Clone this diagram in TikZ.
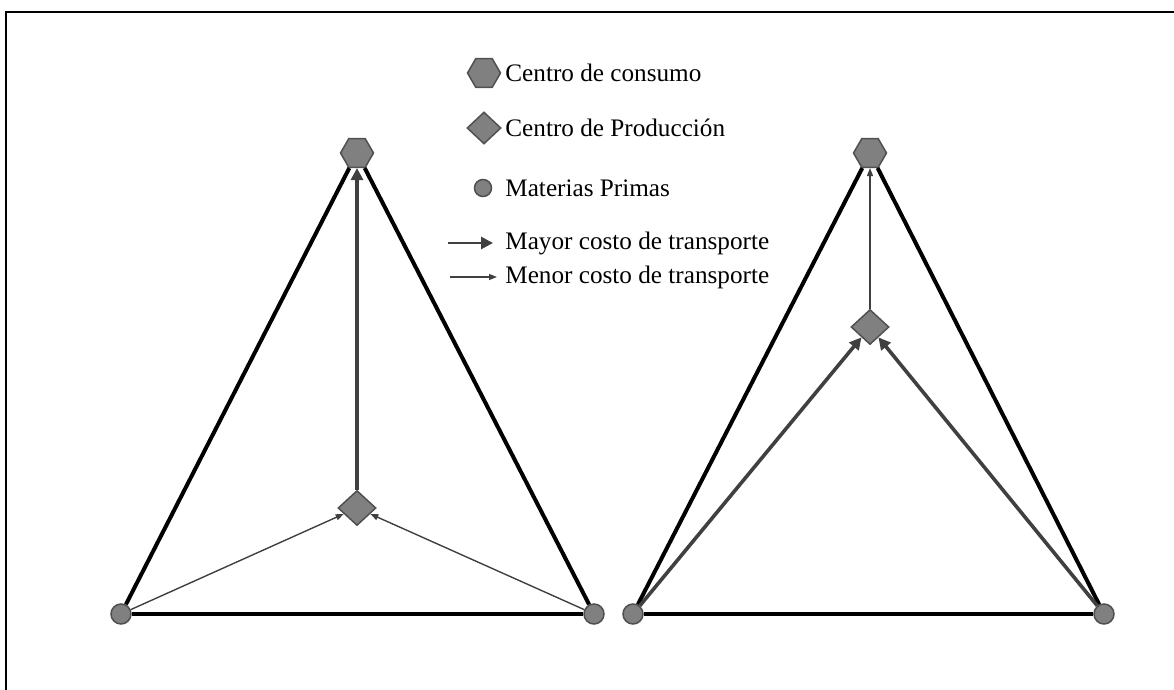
\documentclass[tikz,border=0pt]{standalone}
\usepackage{fontspec}
\setmainfont{Liberation Serif}
\usetikzlibrary{shapes.geometric,arrows.meta,positioning}
\definecolor{shapefill}{HTML}{808080}
\definecolor{shapeline}{HTML}{505050}
\definecolor{arrowgray}{HTML}{404040}

\begin{document}
\begin{tikzpicture}[x=0.5pt, y=-0.5pt,
hexa/.style={regular polygon, regular polygon sides=6, draw=shapeline, fill=shapefill, line width=0.75pt, minimum size=16.5pt, inner sep=0pt},
plant/.style={diamond, draw=shapeline, fill=shapefill, line width=0.75pt, minimum width=19pt, minimum height=17.5pt, inner sep=0pt},
raw/.style={circle, draw=shapeline, fill=shapefill, line width=0.75pt, minimum size=10pt, inner sep=0pt},
side/.style={line width=2pt},
heavy/.style={-{Triangle[length=6pt,width=6pt]}, draw=arrowgray, line width=1.8pt},
light/.style={-{Triangle[length=4pt,width=3pt]}, draw=arrowgray, line width=0.7pt},
legend/.style={anchor=west, inner sep=0pt, font=\fontsize{12.6}{14}\selectfont}]
\useasboundingbox (0,0) rectangle (1174,690);
\draw[line width=1pt] (6,700) |- (1180,12);
% left triangle
\node[hexa] (lc) at (357,153) {};
\node[raw] (la) at (121,614) {};
\node[raw] (lb) at (594,614) {};
\node[plant] (lp) at (357,508) {};
\draw[side] (la) -- (lc);
\draw[side] (lb) -- (lc);
\draw[side] (la) -- (lb);
\draw[heavy] (lp) to (lc);
\draw[light] (la) to (lp);
\draw[light] (lb) to (lp);
% right triangle
\node[hexa] (rc) at (870,153) {};
\node[raw] (ra) at (633,614) {};
\node[raw] (rb) at (1104,614) {};
\node[plant] (rp) at (870,327) {};
\draw[side] (ra) -- (rc);
\draw[side] (rb) -- (rc);
\draw[side, line width=1.6pt] (ra) -- (rb);
\draw[light] (rp) to (rc);
\draw[heavy] (ra) to (rp);
\draw[heavy] (rb) to (rp);
% legend
\node[hexa] (khexa) at (484,73) {};
\node[plant, minimum width=17pt, minimum height=16pt] (kplant) at (484,128) {};
\node[raw, minimum size=8.5pt] (kraw) at (483,188) {};
\coordinate (kha) at (448,243);
\coordinate (khb) at (493,243);
\coordinate (kla) at (450,277);
\coordinate (klb) at (497,277);
\draw[heavy, line width=1.4pt] (kha) -- (khb);
\draw[light] (kla) -- (klb);
\node[legend] at (505,73) {Centro de consumo};
\node[legend] at (505,128) {Centro de Producción};
\node[legend] at (505,188) {Materias Primas};
\node[legend] at (505,243) {Mayor costo de transporte};
\node[legend] at (505,277) {Menor costo de transporte};
\end{tikzpicture}
\end{document}
